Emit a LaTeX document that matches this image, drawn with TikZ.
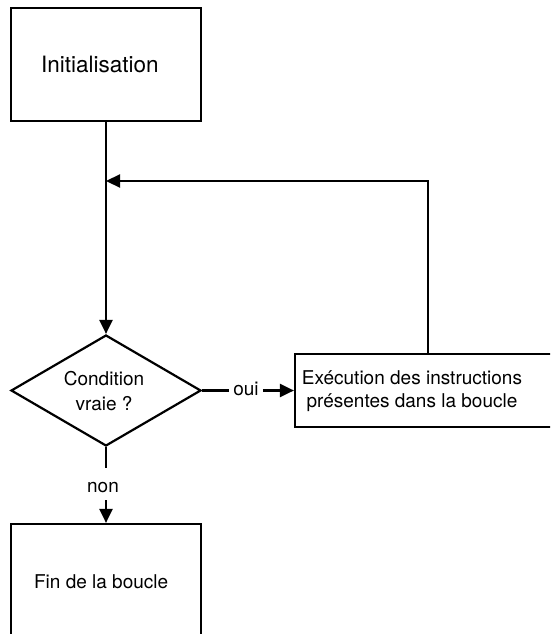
\documentclass[tikz,border=0pt]{standalone}
\usepackage{fontspec}
\setmainfont{TeX Gyre Heros}
\usetikzlibrary{arrows.meta,shapes.geometric}
\begin{document}
\begin{tikzpicture}[x=1pt,y=-1pt,
  line width=2.2pt,
  box/.style={draw, rectangle, inner sep=0pt},
  decision/.style={draw, diamond, inner sep=0pt, aspect=1.7},
  txt/.style={inner sep=0pt, font=\fontsize{19}{23}\selectfont},
  flow/.style={-{Triangle[length=14pt,width=13pt]}},
]
\useasboundingbox (0,0) rectangle (550,634);
\clip (0,0) rectangle (550,634);

% boxes and decision
\node[box, minimum width=190pt, minimum height=113pt] (init) at (106,64.5) {};
\node[decision, minimum width=190pt, minimum height=111pt] (cond) at (106,390.5) {};
\node[box, minimum width=266pt, minimum height=73pt] (exec) at (428,390.5) {};
\node[box, minimum width=190pt, minimum height=114pt] (fin) at (106,581) {};

% texts
\node[txt, anchor=base west, font=\fontsize{22.5}{27}\selectfont] (initlbl) at (40,72) {Initialisation};
\node[txt, align=center, font=\fontsize{19}{25}\selectfont] (condlbl) at (104,391) {Condition\\vraie ?};
\node[txt, align=center] (execlbl) at (412,391) {Exécution des instructions\\présentes dans la boucle};
\node[txt, anchor=base west] (finlbl) at (33,588) {Fin de la boucle};

% branch labels
\node[txt, anchor=base, inner xsep=3pt] (oui) at (246,395) {oui};
\node[txt, anchor=base, text height=23pt, text depth=7pt] (non) at (103,492) {non};

% connectors
\coordinate (join) at (106,181);
\draw[flow] (init.south) -- (cond.north);
\draw (cond.east) -- (cond.east -| oui.west);
\draw[flow] (cond.east -| oui.east) -- (exec.west);
\draw[flow] (exec.north) |- (join);
\draw (cond.south) -- (cond.south |- non.north);
\draw[flow] (cond.south |- non.south) -- (fin.north);
\end{tikzpicture}
\end{document}
